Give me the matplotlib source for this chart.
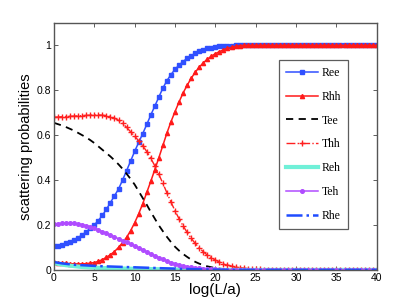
import numpy as np
import matplotlib
matplotlib.use("Agg")
import matplotlib.pyplot as plt

plt.rcParams['font.family'] = ['Liberation Sans', 'DejaVu Sans']

# x grid: log(L/a) from 0 to 40, step 0.5
x = np.linspace(0, 40, 81)

Ree = [.105, .108, .113, .119, .126, .134, .144, .156, .17, .185,
       .2, .22, .243, .27, .30, .33, .36, .40, .442, .485,
       .528, .568, .607, .648, .69, .73, .77, .81, .843, .87,
       .893, .912, .928, .942, .954, .964, .973, .98, .986, .99,
       .993, .995, .997, .998, .999, 1, 1, 1, 1, 1] + [1.0] * 31

Rhh = [.035, .032, .03, .029, .028, .027, .027, .027, .028, .03,
       .033, .038, .046, .056, .068, .082, .10, .122, .145, .175,
       .21, .25, .295, .345, .395, .447, .50, .555, .61, .66,
       .705, .748, .788, .822, .853, .88, .903, .922, .938, .952,
       .963, .972, .98, .986, .991, .995, .998, 1, 1, 1] + [1.0] * 31

Tee = [.655, .649, .643, .636, .628, .62, .61, .60, .59, .578,
       .565, .55, .535, .52, .505, .488, .47, .45, .428, .405,
       .38, .35, .32, .29, .258, .228, .198, .172, .147, .124,
       .103, .086, .071, .058, .046, .036, .028, .021, .016, .012,
       .008, .006, .004, .003, .002, .0015, .001, .0005, 0, 0] + [0.0] * 31

Thh = [.68, .681, .682, .683, .684, .685, .686, .687, .688, .689,
       .69, .69, .689, .687, .683, .676, .666, .652, .635, .615,
       .595, .575, .553, .527, .497, .463, .425, .385, .343, .302,
       .263, .228, .196, .167, .141, .118, .098, .081, .066, .054,
       .044, .035, .028, .022, .017, .013, .01, .008, .006, .004,
       .003, .002, .0015, .001, .0005, 0, 0, 0, 0, 0] + [0.0] * 21

Reh = [.03, .027, .024, .021, .019, .017, .015, .013, .012, .011,
       .01, .0093, .0087, .0081, .0076, .0071, .0066, .0062, .0058, .0054,
       .005, .0046, .0043, .004, .0037, .0034, .0031, .0028, .0025, .0022,
       .002, .0017, .0015, .0012, .001, .0008, .0006, .0004, .0002, .0001] + [0.0] * 41

Teh = [.205, .206, .207, .208, .208, .207, .205, .202, .197, .192,
       .186, .179, .171, .163, .155, .147, .139, .131, .123, .115,
       .106, .098, .09, .081, .072, .063, .055, .047, .04, .033,
       .027, .022, .018, .015, .012, .009, .007, .0055, .004, .003,
       .002, .0015, .001, .0007, .0005, .0003, 0, 0, 0, 0] + [0.0] * 31

Rhe = [.035, .032, .029, .027, .025, .023, .022, .021, .02, .019,
       .018, .0172, .0165, .0158, .0152, .0146, .014, .0134, .0128, .0122,
       .0116, .011, .0104, .0098, .0092, .0086, .008, .0074, .0068, .0062,
       .0056, .005, .0045, .004, .0035, .003, .0026, .0022, .0018, .0015,
       .0012, .001, .0008, .0006, .0004, .0003, .0002, .0001, 0, 0] + [0.0] * 31

fig = plt.figure(figsize=(4.15, 3.05), dpi=100)
ax = fig.add_axes([0.130, 0.115, 0.778, 0.810])

ax.plot(x, Ree, '-s', color='#3050ff', lw=1.1, ms=2.4, label='Ree')
ax.plot(x, Rhh, '-^', color='#ff1a1a', lw=1.1, ms=3.0, label='Rhh')
ax.plot(x, Tee, '--', color='black', lw=1.3, dashes=(4, 3), label='Tee')
ax.plot(x, Thh, '-.+', color='#ff2020', lw=1.0, ms=3.8, mew=1.0, label='Thh')
ax.plot(x, Reh, '-', color='#70f0d8', lw=3, label='Reh')
ax.plot(x, Teh, '-o', color='#b04cff', lw=1.1, ms=2.6, label='Teh')
ax.plot(x, Rhe, '-.', color='#1f4cff', lw=1.8, label='Rhe')

ax.set_xlim(0, 40)
ax.set_ylim(0, 1.1)
ax.set_xticks(range(0, 41, 5))
ax.set_yticks([0, 0.2, 0.4, 0.6, 0.8, 1])
ax.set_yticklabels(['0', '0.2', '0.4', '0.6', '0.8', '1'])
ax.tick_params(direction='in', top=True, right=True, labelsize=7.5,
               length=3, width=0.6, color='#444444', pad=2)
for s in ax.spines.values():
    s.set_color('#555555')
    s.set_linewidth(1.0)

ax.set_xlabel('log(L/a)', fontsize=11, labelpad=0)
ax.set_ylabel('scattering probabilities', fontsize=10.5, labelpad=3)

leg = ax.legend(loc='upper left', bbox_to_anchor=(0.697, 0.85),
                prop={'family': 'Liberation Serif', 'size': 8.5},
                labelspacing=1.0, handlelength=2.7, handletextpad=0.3,
                borderpad=0.6, borderaxespad=0, fancybox=False,
                frameon=True, edgecolor='#333333', markerscale=1.0)
leg.get_frame().set_linewidth(0.9)

fig.savefig('out.png', dpi=100)
